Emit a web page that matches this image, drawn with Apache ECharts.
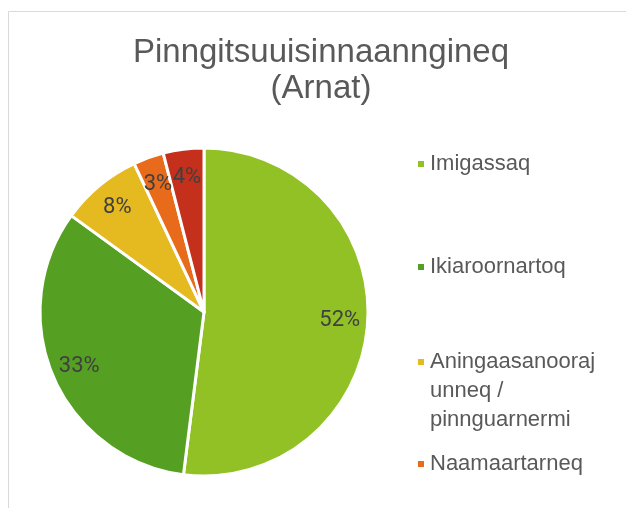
<!DOCTYPE html>
<html>
<head>
<meta charset="utf-8">
<script src="https://cdn.jsdelivr.net/npm/echarts@6/dist/echarts.min.js"></script>
<style>
  html, body { margin: 0; padding: 0; background: #fff; }
  #chart { width: 626px; height: 508px; }
</style>
</head>
<body>
<div id="chart"></div>
<script>
// Share of respondents (women) by type of addiction
const categories = ['Imigassaq', 'Ikiaroornartoq', 'Aningaasanoorajunneq / pinnguarnermi', 'Naamaartarneq', 'Allat'];
const values = [52, 33, 8, 3, 4];
const colors = ['#92C125', '#55A022', '#E5B920', '#E86A1B', '#C4301B'];
const titleLines = ['Pinngitsuuisinnaanngineq', '(Arnat)'];

const FONT = "'Liberation Sans', Arial, sans-serif";
const LABEL_FONT = "Roboto, 'Liberation Sans', sans-serif";

const pieData = categories.map((name, i) => ({
  name: name,
  value: values[i],
  itemStyle: { color: colors[i] }
}));

// legend entries placed one by one (vertical centre of each entry's first line)
const legendRows = [
  { name: categories[0], center: 164 },
  { name: categories[1], center: 267 },
  { name: categories[2], center: 362 },
  { name: categories[3], center: 464 }
];

const legendText = name => {
  if (name === categories[2]) {
    // two blank lines above keep the marker beside the first line
    return '\n\nAningaasanooraj\nunneq /\npinnguarnermi';
  }
  return name;
};

const legends = legendRows.map(row => {
  const lines = legendText(row.name).split('\n').length;
  return {
    data: [row.name],
    orient: 'vertical',
    left: 416,
    top: row.center - (lines * 29) / 2,
    padding: 0,
    icon: 'rect',
    itemWidth: 8,
    itemHeight: 8,
    formatter: legendText,
    selectedMode: false,
    textStyle: {
      fontFamily: FONT,
      fontSize: 22,
      lineHeight: 29,
      color: '#595959'
    }
  };
});

const chart = echarts.init(document.getElementById('chart'), null, { renderer: 'canvas' });

chart.setOption({
  animation: false,
  backgroundColor: '#ffffff',
  graphic: [{
    type: 'rect',
    silent: true,
    z: -10,
    shape: { x: 8.5, y: 11.5, width: 700, height: 600 },
    style: { fill: 'none', stroke: '#d9d9d9', lineWidth: 1 }
  }],
  title: {
    text: titleLines.join('\n'),
    left: 321,
    top: 35,
    textAlign: 'center',
    padding: 0,
    textStyle: {
      fontFamily: FONT,
      fontSize: 33,
      lineHeight: 36,
      fontWeight: 'normal',
      color: '#595959'
    }
  },
  legend: legends,
  series: [
    {
      type: 'pie',
      center: [204, 312],
      radius: [0, 164],
      startAngle: 90,
      clockwise: true,
      avoidLabelOverlap: false,
      label: { show: false },
      labelLine: { show: false },
      itemStyle: { borderColor: '#ffffff', borderWidth: 3 },
      emphasis: { disabled: true },
      data: pieData
    },
    {
      // transparent ring that carries the percentage labels near the rim
      type: 'pie',
      center: [204, 312],
      radius: [102, 164],
      startAngle: 90,
      clockwise: true,
      silent: true,
      avoidLabelOverlap: false,
      minShowLabelAngle: 0,
      itemStyle: { color: 'rgba(0,0,0,0)', borderWidth: 0 },
      label: {
        show: true,
        position: 'inside',
        formatter: p => p.value + '%',
        fontFamily: LABEL_FONT,
        fontSize: 22,
        color: '#404040'
      },
      labelLayout: { hideOverlap: false },
      labelLine: { show: false },
      emphasis: { disabled: true },
      data: categories.map((name, i) => ({ name: name, value: values[i] }))
    }
  ]
});
</script>
</body>
</html>
